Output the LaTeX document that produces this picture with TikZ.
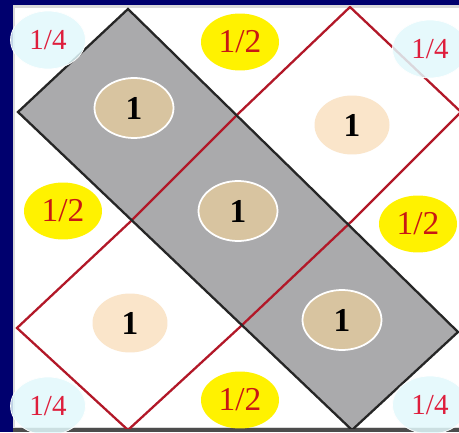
\documentclass[tikz,border=0pt]{standalone}
\usepackage{fontspec}
\setmainfont{Liberation Serif}
\usepackage{xcolor}
\usetikzlibrary{shapes.geometric}
\definecolor{rahmen}{RGB}{0,0,110}
\definecolor{band}{RGB}{170,170,172}
\definecolor{gitterrot}{RGB}{178,24,40}
\definecolor{tan}{RGB}{216,196,160}
\definecolor{pfirsich}{RGB}{250,229,202}
\definecolor{gelb}{RGB}{255,242,0}
\definecolor{eis}{RGB}{226,249,252}
\definecolor{halbrot}{RGB}{200,24,20}
\definecolor{viertelrot}{RGB}{222,30,60}

\begin{document}
\begin{tikzpicture}[x=0.02cm,y=-0.02cm,
  einsdunkel/.style={ellipse, fill=tan, draw=white, line width=1pt, inner sep=0pt,
    minimum width=1.58cm, minimum height=1.2cm, font=\fontsize{19}{19}\selectfont\bfseries},
  einshell/.style={ellipse, fill=pfirsich, inner sep=0pt,
    minimum width=1.5cm, minimum height=1.18cm, font=\fontsize{19}{19}\selectfont\bfseries},
  halb/.style={ellipse, fill=gelb, inner sep=0pt, text=halbrot,
    minimum width=1.56cm, minimum height=1.14cm, font=\fontsize{19}{19}\selectfont},
  viertel/.style={ellipse, fill=eis, fill opacity=0.85, text opacity=1, draw=white,
    inner sep=0pt, text=viertelrot,
    minimum width=1.5cm, minimum height=1.16cm, font=\fontsize{16.5}{16.5}\selectfont}]
\useasboundingbox (0,0) rectangle (459,432);

% =========================================================
% Rahmen
% =========================================================
\fill[rahmen] (0,0) rectangle (459,432);
\fill[white, draw=gray!30, line width=1.2pt] (14,6.5) rectangle (460,428);
\fill[black!70] (13,428) rectangle (459,432);

% =========================================================
% Gitterpunkte
% =========================================================
\coordinate (p00) at (128,9);
\coordinate (p01) at (18,112);
\coordinate (p10) at (239,113);
\coordinate (p11) at (130,222);
\coordinate (p20) at (353,220);
\coordinate (p21) at (240,327);
\coordinate (p30) at (458,332);
\coordinate (p31) at (352,430);
\coordinate (q1) at (350,7);   % oben rechts
\coordinate (q2) at (461,112); % rechts
\coordinate (q3) at (17,328);  % links unten
\coordinate (q4) at (128,430); % unten

\begin{scope}
\clip (14,6.5) rectangle (459,428);
% graues Band
\fill[band] (p00) -- (p30) -- (p31) -- (p01) -- cycle;
% rote Quadrate
\draw[gitterrot, line width=1.3pt] (q3) -- (p11) -- (p10) -- (q1) -- (q2) -- (p20) -- (p21) -- (q4) -- cycle;
% Rand des Bandes
\draw[black!85, line width=1.3pt] (p00) -- (p30) -- (p31) -- (p01) -- cycle;
\end{scope}

% =========================================================
% Gewichte
% =========================================================
\node[einsdunkel] (e1) at (134,108) {1};
\node[einsdunkel] (e2) at (238,211) {1};
\node[einsdunkel] (e3) at (342,320) {1};
\node[einshell] (e4) at (352,125) {1};
\node[einshell] (e5) at (130,323) {1};

\node[halb] (h1) at (240,42) {1/2};
\node[halb] (h2) at (63,211) {1/2};
\node[halb] (h3) at (418,224) {1/2};
\node[halb] (h4) at (240,400) {1/2};

\node[viertel] (v1) at (48,40) {1/4};
\node[viertel] (v2) at (430,49) {1/4};
\node[viertel] (v3) at (48,406) {1/4};
\node[viertel] (v4) at (430,405) {1/4};

\end{tikzpicture}
\end{document}
